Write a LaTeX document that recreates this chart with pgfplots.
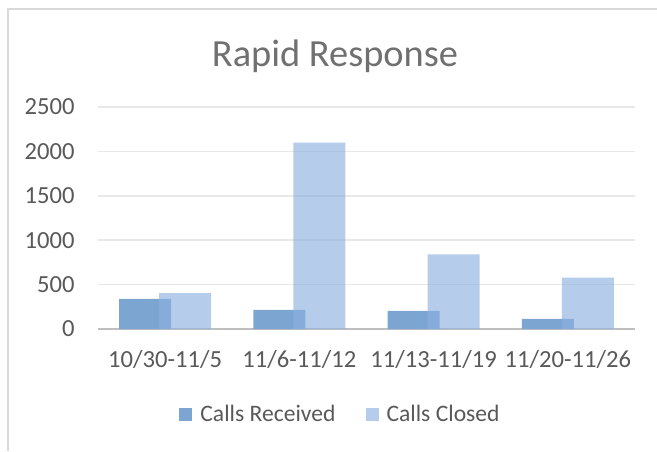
\documentclass[border=0pt]{standalone}
\usepackage{fontspec}
\setmainfont{Carlito}
\usepackage{pgfplots}
\pgfplotsset{compat=1.18}
\definecolor{received}{RGB}{124,165,210}
\definecolor{closedc}{RGB}{140,177,224}
\definecolor{gridc}{RGB}{232,232,232}
\definecolor{axisc}{RGB}{191,191,191}
\definecolor{textc}{RGB}{89,89,89}
\definecolor{titlec}{RGB}{112,112,112}
\definecolor{borderc}{RGB}{217,217,217}
\begin{document}
\begin{tikzpicture}
\path[use as bounding box] (0pt,0pt) rectangle (328.5pt,-225.5pt);
\draw[borderc, line width=1pt] (4pt,-225.5pt) -- (4pt,-4.5pt) -- (328.5pt,-4.5pt);
\node[anchor=base, text=titlec, font=\fontsize{19.2}{22}\selectfont] at (167.5pt,-33.3pt) {Rapid Response};
\begin{axis}[
  at={(49pt,-164.5pt)}, anchor=south west,
  scale only axis, width=268.5pt, height=111pt,
  xmin=-0.5, xmax=3.5, ymin=0, ymax=2500,
  enlargelimits=false,
  xtick={0,1,2,3},
  xticklabels={10/30-11/5, 11/6-11/12, 11/13-11/19, 11/20-11/26},
  ytick={0,500,1000,1500,2000,2500},
  major tick length=0pt,
  axis x line*=bottom, axis y line*=left,
  x axis line style={draw=axisc, line width=1pt},
  y axis line style={draw=none},
  ymajorgrids, grid style={draw=gridc, line width=0.75pt},
  ticklabel style={font=\fontsize{12.3}{14}\selectfont, text=textc},
  yticklabel style={anchor=east, inner sep=0pt},
  xticklabel style={anchor=north, inner sep=0pt},
  yticklabel shift=11.5pt,
  xticklabel shift=10.5pt,
  /pgf/number format/assume math mode=true,
  /pgf/number format/1000 sep={},
  ybar, bar width=26pt,
  legend style={at={(axis description cs:0.4497,-0.387)}, anchor=center,
    draw=none, fill=none, legend columns=2,
    font=\fontsize{11.8}{14}\selectfont, text=textc,
    nodes={inner sep=0pt},
    /tikz/every odd column/.append style={column sep=4pt},
    /tikz/every even column/.append style={column sep=15pt}},
  legend cell align=left,
]
\addplot[draw=none, fill=received, bar shift=-10pt,
  legend image code/.code={\fill[received] (0pt,-3.25pt) rectangle (6.5pt,3.25pt);}]
  coordinates {(0,340) (1,215) (2,205) (3,115)};
\addlegendentry{Calls Received}
\addplot[draw=none, fill=closedc, fill opacity=0.644, bar shift=10pt,
  legend image code/.code={\fill[closedc, fill opacity=0.644] (0pt,-3.25pt) rectangle (6.5pt,3.25pt);}]
  coordinates {(0,405) (1,2100) (2,840) (3,580)};
\addlegendentry{Calls Closed}
\end{axis}
\end{tikzpicture}
\end{document}
